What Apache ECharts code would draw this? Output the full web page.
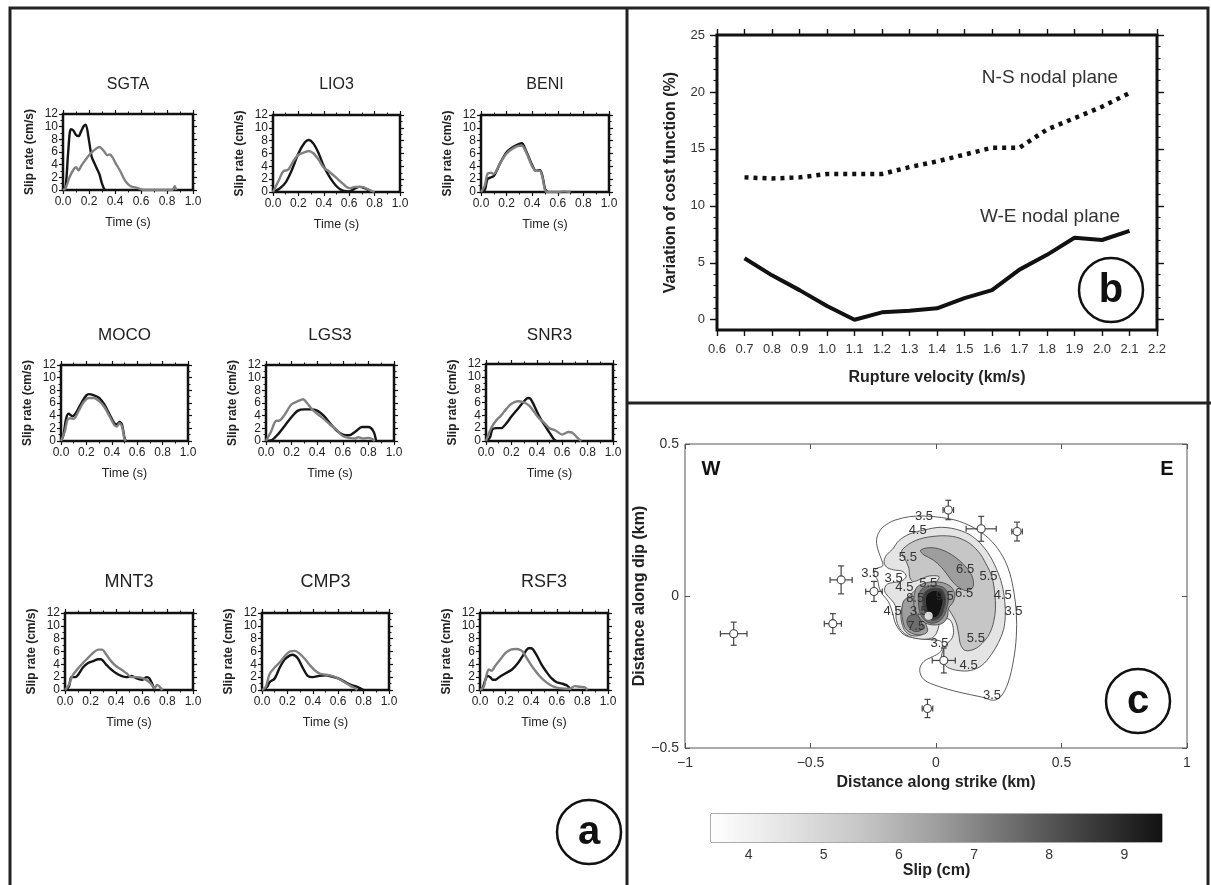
<!DOCTYPE html>
<html><head><meta charset="utf-8">
<script src="https://cdn.jsdelivr.net/npm/echarts@6/dist/echarts.min.js"></script>
<style>html,body{margin:0;padding:0;background:#fff}#c{width:1211px;height:885px}</style>
</head><body><div id="c"></div>
<script>
// ================= DATA =================
// Panel a: slip-rate functions [time (s), slip rate (cm/s)]; obs = black, syn = gray
const stationNames = ['SGTA','LIO3','BENI','MOCO','LGS3','SNR3','MNT3','CMP3','RSF3'];
const SGTA_obs = [[0,0],[0.02,0.5],[0.04,6.0],[0.06,9.6],[0.08,9.4],[0.1,8.7],[0.12,8.5],[0.14,9.3],[0.16,10.1],[0.175,10.3],[0.2,7.8],[0.22,5.3],[0.24,4.3],[0.26,3.4],[0.28,2.5],[0.3,1.0],[0.32,0]];
const SGTA_syn = [[0,0],[0.02,0.3],[0.05,2.0],[0.08,3.2],[0.1,3.6],[0.12,3.1],[0.14,3.8],[0.16,4.4],[0.2,5.5],[0.24,6.3],[0.28,6.8],[0.3,6.5],[0.32,6.0],[0.34,5.5],[0.36,5.6],[0.38,5.2],[0.4,4.4],[0.44,3.0],[0.48,1.4],[0.52,0.6],[0.56,0.4],[0.6,0.1],[0.62,0],[0.84,0],[0.86,0.6],[0.87,0]];
const LIO3_obs = [[0,0],[0.05,0.5],[0.1,1.5],[0.15,3.5],[0.2,6.0],[0.25,7.7],[0.28,8.1],[0.32,7.5],[0.36,6.0],[0.4,4.0],[0.45,2.2],[0.5,0.9],[0.55,0.2],[0.6,0.1],[0.65,0.6],[0.68,0.8],[0.72,0.6],[0.76,0.2],[0.78,0]];
const LIO3_syn = [[0,0],[0.05,2.0],[0.08,3.2],[0.12,3.5],[0.16,4.8],[0.2,5.8],[0.25,6.2],[0.28,6.4],[0.32,6.0],[0.36,5.0],[0.4,3.8],[0.44,3.2],[0.5,2.2],[0.55,1.3],[0.6,0.6],[0.65,0.8],[0.7,0.8],[0.75,0.4],[0.8,0]];
const BENI_obs = [[0,0],[0.03,0.3],[0.05,2.0],[0.08,2.3],[0.1,2.5],[0.12,3.2],[0.15,4.5],[0.2,6.2],[0.25,7.0],[0.3,7.5],[0.32,7.6],[0.35,6.5],[0.4,4.2],[0.43,3.3],[0.46,3.4],[0.48,2.5],[0.5,0.5],[0.52,0]];
const BENI_syn = [[0,0],[0.03,1.0],[0.05,2.8],[0.08,3.0],[0.1,2.8],[0.12,3.3],[0.15,4.5],[0.2,6.0],[0.25,6.8],[0.3,7.2],[0.32,7.2],[0.35,6.3],[0.4,4.0],[0.43,3.3],[0.46,3.3],[0.48,2.3],[0.5,0.3],[0.52,0],[0.6,0],[0.65,0.1],[0.7,0]];
const MOCO_obs = [[0,0],[0.02,1.0],[0.04,3.5],[0.06,4.3],[0.09,3.9],[0.12,4.5],[0.16,6.0],[0.2,7.2],[0.22,7.4],[0.26,7.2],[0.3,6.8],[0.34,5.8],[0.38,4.3],[0.42,2.8],[0.44,2.6],[0.46,3.0],[0.48,2.6],[0.5,0.5],[0.51,0]];
const MOCO_syn = [[0,0],[0.03,1.5],[0.05,3.3],[0.07,3.6],[0.1,3.5],[0.14,4.8],[0.18,6.2],[0.22,6.8],[0.26,6.8],[0.3,6.3],[0.34,5.4],[0.38,4.0],[0.42,2.5],[0.44,2.3],[0.46,2.8],[0.48,2.3],[0.5,0.3],[0.51,0]];
const LGS3_obs = [[0,0],[0.05,0.2],[0.1,1.2],[0.15,2.5],[0.2,3.8],[0.25,4.8],[0.3,5.0],[0.35,5.0],[0.4,4.8],[0.45,4.0],[0.5,2.8],[0.55,1.7],[0.6,1.0],[0.65,0.9],[0.7,1.5],[0.75,2.2],[0.8,2.2],[0.84,1.5],[0.86,0]];
const LGS3_syn = [[0,0],[0.04,1.5],[0.08,3.2],[0.1,3.2],[0.14,4.0],[0.2,5.8],[0.25,6.3],[0.29,6.6],[0.32,6.0],[0.36,5.0],[0.4,4.3],[0.45,3.5],[0.5,2.6],[0.55,1.8],[0.6,0.8],[0.65,0.5],[0.7,0.4],[0.72,0.6],[0.76,0.4],[0.8,0.5],[0.83,0.3],[0.85,0]];
const SNR3_obs = [[0,0],[0.03,0.5],[0.05,1.8],[0.08,2.0],[0.12,2.0],[0.15,2.5],[0.2,3.8],[0.25,5.0],[0.3,6.2],[0.33,6.7],[0.35,6.6],[0.38,5.5],[0.42,3.8],[0.46,2.5],[0.5,1.3],[0.53,0.4],[0.55,0]];
const SNR3_syn = [[0,0],[0.04,2.0],[0.08,3.2],[0.12,4.0],[0.16,5.0],[0.2,5.8],[0.25,6.2],[0.3,6.0],[0.34,5.5],[0.38,4.5],[0.42,3.5],[0.46,2.8],[0.5,2.0],[0.55,1.6],[0.6,1.0],[0.65,1.4],[0.68,1.3],[0.72,0.5],[0.75,0]];
const MNT3_obs = [[0,0],[0.03,0.5],[0.05,2.0],[0.08,2.0],[0.1,2.3],[0.14,3.5],[0.18,4.2],[0.22,4.5],[0.26,4.8],[0.28,4.8],[0.32,4.0],[0.36,3.2],[0.4,2.6],[0.44,2.2],[0.48,2.0],[0.52,2.2],[0.56,1.8],[0.6,1.6],[0.64,2.0],[0.66,1.8],[0.68,1.0],[0.7,0]];
const MNT3_syn = [[0,0],[0.03,0.8],[0.06,2.3],[0.1,3.3],[0.14,4.2],[0.18,5.0],[0.22,5.8],[0.26,6.3],[0.29,6.3],[0.32,5.6],[0.36,4.5],[0.4,3.7],[0.44,3.2],[0.48,2.6],[0.52,2.0],[0.56,2.0],[0.6,1.9],[0.64,1.5],[0.67,1.0],[0.7,0.3],[0.72,0.8],[0.74,0.5],[0.76,0]];
const CMP3_obs = [[0,0],[0.04,0.5],[0.06,1.2],[0.1,1.8],[0.14,3.5],[0.18,4.8],[0.22,5.4],[0.24,5.5],[0.28,5.0],[0.32,3.5],[0.36,2.2],[0.4,2.0],[0.45,2.2],[0.5,2.3],[0.55,2.1],[0.6,1.8],[0.65,1.3],[0.7,0.8],[0.75,0.5],[0.78,0.2],[0.8,0]];
const CMP3_syn = [[0,0],[0.03,0.5],[0.06,2.5],[0.1,3.5],[0.14,4.3],[0.18,5.3],[0.22,6.0],[0.26,6.1],[0.3,5.6],[0.34,4.8],[0.38,3.8],[0.42,3.0],[0.46,2.5],[0.5,2.4],[0.55,2.2],[0.6,1.8],[0.65,1.2],[0.7,0.6],[0.73,0.3],[0.75,0]];
const RSF3_obs = [[0,0],[0.02,0.3],[0.04,1.5],[0.06,2.2],[0.08,2.0],[0.1,1.6],[0.12,1.6],[0.15,2.0],[0.2,2.6],[0.25,3.2],[0.3,4.3],[0.34,5.5],[0.38,6.5],[0.4,6.5],[0.44,5.5],[0.48,4.0],[0.52,2.8],[0.56,1.8],[0.6,1.2],[0.64,1.0],[0.68,0.7],[0.7,0.3],[0.72,0]];
const RSF3_syn = [[0,0],[0.03,0.5],[0.05,2.3],[0.07,3.2],[0.09,3.0],[0.12,3.8],[0.16,4.8],[0.2,5.8],[0.24,6.3],[0.28,6.4],[0.32,6.2],[0.34,5.8],[0.38,4.5],[0.42,3.3],[0.46,2.3],[0.5,1.5],[0.54,0.9],[0.58,0.5],[0.62,0.3],[0.7,0.2],[0.74,0.6],[0.78,0.5],[0.82,0.4],[0.84,0]];

// Panel b: cost function variation (%) vs rupture velocity (km/s)
const velocity = [0.7,0.8,0.9,1.0,1.1,1.2,1.3,1.4,1.5,1.6,1.7,1.8,1.9,2.0,2.1];
const costNS = [12.5,12.4,12.5,12.8,12.8,12.8,13.4,13.9,14.5,15.1,15.1,16.7,17.7,18.7,19.9];
const costWE = [5.4,3.9,2.6,1.2,0.0,0.65,0.8,1.0,1.9,2.6,4.4,5.7,7.2,7.0,7.8];
const costTicks = [0,5,10,15,20,25];
const costMinorTicks = [0,1,2,3,4,5,6,7,8,9,10,11,12,13,14,15,16,17,18,19,20,21,22,23,24,25];

// Panel c: slip contours (km along strike, km along dip)
const contour35 = [[-0.162,0.250],[-0.105,0.261],[-0.048,0.263],[0.023,0.258],[0.095,0.245],[0.166,0.217],[0.223,0.179],[0.266,0.130],[0.294,0.075],[0.311,0.009],[0.320,-0.056],[0.320,-0.133],[0.309,-0.210],[0.287,-0.286],[0.259,-0.330],[0.230,-0.343],[0.180,-0.332],[0.095,-0.317],[0.009,-0.297],[-0.048,-0.275],[-0.065,-0.243],[-0.048,-0.215],[0.002,-0.193],[0.023,-0.177],[0.021,-0.150],[-0.019,-0.144],[-0.076,-0.139],[-0.126,-0.128],[-0.159,-0.095],[-0.173,-0.056],[-0.190,-0.018],[-0.212,0.004],[-0.226,0.026],[-0.233,0.053],[-0.247,0.073],[-0.236,0.091],[-0.212,0.099],[-0.219,0.124],[-0.233,0.157],[-0.236,0.190],[-0.219,0.220],[-0.190,0.239]];
const contour45 = [[-0.173,0.154],[-0.148,0.182],[-0.105,0.204],[-0.048,0.217],[0.023,0.226],[0.102,0.214],[0.159,0.187],[0.206,0.143],[0.240,0.091],[0.263,0.037],[0.274,-0.018],[0.276,-0.067],[0.269,-0.111],[0.249,-0.153],[0.220,-0.193],[0.183,-0.228],[0.138,-0.245],[0.088,-0.245],[0.045,-0.234],[0.023,-0.212],[0.026,-0.182],[0.045,-0.157],[0.066,-0.135],[0.069,-0.106],[0.055,-0.078],[0.023,-0.076],[0.002,-0.122],[-0.019,-0.139],[-0.069,-0.141],[-0.116,-0.129],[-0.145,-0.106],[-0.159,-0.073],[-0.159,-0.043],[-0.169,-0.021],[-0.190,-0.002],[-0.205,0.018],[-0.197,0.037],[-0.173,0.044],[-0.140,0.048],[-0.119,0.064],[-0.133,0.081],[-0.169,0.086],[-0.197,0.095],[-0.207,0.113],[-0.197,0.135]];
const contour55 = [[-0.133,0.154],[-0.083,0.182],[-0.012,0.196],[0.066,0.196],[0.123,0.179],[0.169,0.146],[0.199,0.106],[0.223,0.062],[0.234,0.009],[0.237,-0.040],[0.230,-0.084],[0.213,-0.124],[0.185,-0.155],[0.152,-0.175],[0.116,-0.179],[0.098,-0.160],[0.091,-0.128],[0.081,-0.089],[0.063,-0.060],[0.041,-0.037],[0.038,-0.067],[0.009,-0.080],[-0.026,-0.080],[-0.048,-0.100],[-0.051,-0.124],[-0.091,-0.131],[-0.122,-0.116],[-0.136,-0.089],[-0.140,-0.062],[-0.133,-0.034],[-0.119,-0.013],[-0.098,0.007],[-0.069,0.026],[-0.034,0.037],[0.002,0.048],[0.012,0.064],[-0.026,0.066],[-0.062,0.055],[-0.093,0.048],[-0.105,0.064],[-0.108,0.091],[-0.122,0.119],[-0.136,0.139]];
const contour65Crescent = [[-0.062,0.150],[-0.026,0.159],[0.023,0.152],[0.073,0.130],[0.112,0.102],[0.138,0.075],[0.149,0.048],[0.145,0.026],[0.120,0.018],[0.095,0.026],[0.069,0.044],[0.045,0.070],[0.021,0.095],[-0.012,0.119],[-0.048,0.135]];
const contour65Lobe = [[-0.126,-0.013],[-0.091,-0.002],[-0.062,-0.018],[-0.048,-0.051],[-0.041,-0.089],[-0.034,-0.117],[-0.062,-0.128],[-0.098,-0.122],[-0.122,-0.106],[-0.133,-0.078],[-0.136,-0.045]];
const contour65Core = [[-0.075,0.030],[-0.030,0.045],[0.020,0.045],[0.060,0.030],[0.075,0.005],[0.068,-0.020],[0.050,-0.040],[0.045,-0.070],[0.025,-0.090],[-0.015,-0.095],[-0.050,-0.085],[-0.075,-0.060],[-0.088,-0.030],[-0.086,0.005]];
const contour75Lobe = [[-0.108,-0.067],[-0.079,-0.062],[-0.059,-0.084],[-0.055,-0.109],[-0.083,-0.117],[-0.108,-0.102],[-0.116,-0.084]];
const contour75Core = [[-0.058,0.022],[-0.015,0.034],[0.030,0.028],[0.050,0.000],[0.044,-0.035],[0.030,-0.068],[0.005,-0.086],[-0.028,-0.088],[-0.055,-0.070],[-0.068,-0.040],[-0.068,-0.005]];
const contour85Core = [[-0.045,0.012],[-0.012,0.026],[0.025,0.020],[0.038,-0.008],[0.032,-0.042],[0.016,-0.070],[-0.012,-0.080],[-0.036,-0.068],[-0.050,-0.040],[-0.052,-0.012]];
const contour95Core = [[-0.036,0.005],[-0.010,0.018],[0.015,0.012],[0.028,-0.010],[0.022,-0.040],[0.008,-0.065],[-0.012,-0.072],[-0.030,-0.060],[-0.040,-0.035],[-0.042,-0.012]];
const contourShapes = [contour35, contour45, contour55, contour65Crescent, contour65Lobe, contour65Core, contour75Lobe, contour75Core, contour85Core, contour95Core];
const contourLevels = [3.5, 4.5, 5.5, 6.5, 6.5, 6.5, 7.5, 7.5, 8.5, 9.5];
const contourLabelX = [-0.048,-0.073,-0.112,0.116,0.209,-0.262,-0.169,-0.126,-0.031,0.035,0.112,-0.083,0.266,0.309,-0.173,-0.069,-0.079,0.159,0.014,0.130,0.223];
const contourLabelY = [0.261,0.217,0.128,0.086,0.064,0.073,0.059,0.029,0.042,-0.002,0.007,-0.009,0.001,-0.051,-0.051,-0.051,-0.100,-0.139,-0.157,-0.229,-0.328];
const contourLabelText = ['3.5','4.5','5.5','6.5','5.5','3.5','3.5','4.5','5.5','9.5','6.5','8.5','4.5','3.5','4.5','3.5','7.5','5.5','3.5','4.5','3.5'];
const stationX = [-0.806,-0.378,-0.247,-0.411,0.049,0.180,0.323,0.031,-0.034];
const stationY = [-0.124,0.053,0.015,-0.091,0.283,0.221,0.212,-0.212,-0.370];
const stationXErr = [0.053,0.044,0.033,0.034,0.021,0.060,0.021,0.046,0.021];
const stationYErr = [0.038,0.046,0.033,0.033,0.032,0.041,0.031,0.041,0.030];
const hypocenter = [[-0.029,-0.065]];
const slipColorRange = [3.5, 9.5];
const slipColorTicks = [4,5,6,7,8,9];

// ================= STYLE / LAYOUT =================
const FF = '"Liberation Sans", Arial, Helvetica, sans-serif';
const obsSeries = [SGTA_obs, LIO3_obs, BENI_obs, MOCO_obs, LGS3_obs, SNR3_obs, MNT3_obs, CMP3_obs, RSF3_obs];
const synSeries = [SGTA_syn, LIO3_syn, BENI_syn, MOCO_syn, LGS3_syn, SNR3_syn, MNT3_syn, CMP3_syn, RSF3_syn];
const smallBox = [[63,114,130,76],[273,115,127,77],[481,115,128,77],[61,365,127,76],[266,365,128,76],[486,364,127,77],[65,613,128,77],[262,613,127,77],[480,613,128,77]];
const titleY = [85,85,85,335,335,335,582,582,582];
const titleSize = [16,16,16,17,17,17,18,18,18];
const levelColor = {3.5:'#ffffff',4.5:'#e4e4e4',5.5:'#c6c6c6',6.5:'#9e9e9e',7.5:'#6e6e6e',8.5:'#3e3e3e',9.5:'#121212'};

const grids = [], xAxes = [], yAxes = [], series = [], graphics = [];
const tickStyle = {color:'#111', width:1.2};
const noLine = {show:false, onZero:false};

stationNames.forEach((name, i) => {
  const b = smallBox[i];
  grids.push({left:b[0], top:b[1], width:b[2], height:b[3], show:true, borderColor:'#111', borderWidth:2.5, backgroundColor:'transparent', containLabel:false, outerBoundsMode:'none'});
  const common = {gridIndex:i, type:'value', axisLine:noLine, splitLine:{show:false}, minorSplitLine:{show:false}};
  const tk = {show:true, length:4, lineStyle:tickStyle};
  const mtk = {show:true, splitNumber:2, length:2.5, lineStyle:{color:'#111',width:1}};
  xAxes.push(Object.assign({}, common, {min:0, max:1, interval:0.2, position:'bottom', axisTick:tk, minorTick:mtk,
    axisLabel:{fontSize:12, color:'#222', margin:6, fontFamily:FF, formatter:v=>v.toFixed(1)},
    name:'Time (s)', nameLocation:'middle', nameGap:26, nameTextStyle:{fontSize:12.5, color:'#222', fontFamily:FF}}));
  xAxes.push(Object.assign({}, common, {min:0, max:1, interval:0.2, position:'top', axisTick:tk, minorTick:mtk, axisLabel:{show:false}}));
  yAxes.push(Object.assign({}, common, {min:0, max:12, interval:2, position:'left', axisTick:tk, minorTick:mtk,
    axisLabel:{fontSize:12, color:'#222', margin:5, fontFamily:FF},
    name:'Slip rate (cm/s)', nameLocation:'middle', nameGap:27, nameTextStyle:{fontSize:12, fontWeight:'bold', color:'#222', fontFamily:FF}}));
  yAxes.push(Object.assign({}, common, {min:0, max:12, interval:2, position:'right', axisTick:tk, minorTick:mtk, axisLabel:{show:false}}));
  series.push({type:'line', xAxisIndex:2*i, yAxisIndex:2*i, data:obsSeries[i], symbol:'none', smooth:0.3, lineStyle:{color:'#151515', width:2.4}, z:3});
  series.push({type:'line', xAxisIndex:2*i, yAxisIndex:2*i, data:synSeries[i], symbol:'none', smooth:0.3, lineStyle:{color:'#808080', width:2.4}, z:4});
  graphics.push({type:'text', x:b[0]+b[2]/2, y:titleY[i], style:{text:name, fill:'#222', font:titleSize[i]+'px '+FF, align:'center', verticalAlign:'middle'}});
});

// Panel b (grid 9; xAxis 18,19; yAxis 18..21)
grids.push({left:717, top:35, width:440, height:295, show:true, borderColor:'#111', borderWidth:3, backgroundColor:'transparent', containLabel:false, outerBoundsMode:'none'});
const bx = {gridIndex:9, type:'value', min:0.6, max:2.2, interval:0.1, axisLine:noLine, splitLine:{show:false}};
xAxes.push(Object.assign({}, bx, {position:'bottom', axisTick:{show:true, length:6, lineStyle:{color:'#111', width:1.4}},
  axisLabel:{fontSize:13, color:'#333', margin:13, fontFamily:FF, formatter:v=>v.toFixed(1)},
  name:'Rupture velocity (km/s)', nameLocation:'middle', nameGap:40, nameTextStyle:{fontSize:16, fontWeight:'bold', color:'#222', fontFamily:FF}}));
xAxes.push(Object.assign({}, bx, {position:'top', axisTick:{show:true, length:6, lineStyle:{color:'#111', width:1.4}}, axisLabel:{show:false}}));
const by = {gridIndex:9, type:'value', min:-0.9, max:25, axisLine:noLine, splitLine:{show:false}};
yAxes.push(Object.assign({}, by, {position:'left', axisTick:{show:true, length:7, customValues:costTicks, lineStyle:{color:'#111', width:1.4}},
  axisLabel:{fontSize:13, color:'#333', margin:12, fontFamily:FF, customValues:costTicks},
  name:'Variation of cost function (%)', nameLocation:'middle', nameGap:38, nameTextStyle:{fontSize:16, fontWeight:'bold', color:'#222', fontFamily:FF}}));
yAxes.push(Object.assign({}, by, {position:'left', axisTick:{show:true, length:3.5, customValues:costMinorTicks, lineStyle:{color:'#111', width:1.1}}, axisLabel:{show:false}}));
yAxes.push(Object.assign({}, by, {position:'right', axisTick:{show:true, length:7, customValues:costTicks, lineStyle:{color:'#111', width:1.4}}, axisLabel:{show:false}}));
yAxes.push(Object.assign({}, by, {position:'right', axisTick:{show:true, length:3.5, customValues:costMinorTicks, lineStyle:{color:'#111', width:1.1}}, axisLabel:{show:false}}));
series.push({type:'line', xAxisIndex:18, yAxisIndex:18, data:velocity.map((v,i)=>[v,costNS[i]]), symbol:'none', lineStyle:{color:'#111', width:4.5, type:[4,5], cap:'butt'}});
series.push({type:'line', xAxisIndex:18, yAxisIndex:18, data:velocity.map((v,i)=>[v,costWE[i]]), symbol:'none', lineStyle:{color:'#111', width:4}});
graphics.push({type:'text', x:1050, y:78, style:{text:'N-S nodal plane', fill:'#333', font:'19px '+FF, align:'center', verticalAlign:'middle'}});
graphics.push({type:'text', x:1050, y:217, style:{text:'W-E nodal plane', fill:'#333', font:'19px '+FF, align:'center', verticalAlign:'middle'}});

// Panel c (grid 10; xAxis 20,21; yAxis 22,23)
grids.push({left:685, top:444, width:502, height:304, show:true, borderColor:'#555', borderWidth:1, backgroundColor:'transparent', containLabel:false, outerBoundsMode:'none'});
const minusFmt = v => (v === 0 ? '0' : String(v).replace('-', '\u2212'));
const cx = {gridIndex:10, type:'value', min:-1, max:1, interval:0.5, axisLine:noLine, splitLine:{show:false}};
xAxes.push(Object.assign({}, cx, {position:'bottom', axisTick:{show:true, inside:true, length:5, lineStyle:{color:'#555', width:1}},
  axisLabel:{fontSize:14, color:'#333', margin:8, fontFamily:FF, formatter:minusFmt},
  name:'Distance along strike (km)', nameLocation:'middle', nameGap:27, nameTextStyle:{fontSize:16, fontWeight:'bold', color:'#222', fontFamily:FF}}));
xAxes.push(Object.assign({}, cx, {position:'top', axisTick:{show:true, inside:true, length:5, lineStyle:{color:'#555', width:1}}, axisLabel:{show:false}}));
const cy = {gridIndex:10, type:'value', min:-0.5, max:0.5, interval:0.5, axisLine:noLine, splitLine:{show:false}};
yAxes.push(Object.assign({}, cy, {position:'left', axisTick:{show:true, inside:true, length:5, lineStyle:{color:'#555', width:1}},
  axisLabel:{fontSize:14, color:'#333', margin:6, fontFamily:FF, formatter:minusFmt},
  name:'Distance along dip (km)', nameLocation:'middle', nameGap:20, nameTextStyle:{fontSize:16, fontWeight:'bold', color:'#222', fontFamily:FF}}));
yAxes.push(Object.assign({}, cy, {position:'right', axisTick:{show:true, inside:true, length:5, lineStyle:{color:'#555', width:1}}, axisLabel:{show:false}}));

series.push({type:'custom', xAxisIndex:20, yAxisIndex:22, clip:true, z:2,
  data: contourShapes.map((s,i)=>[s[0][0], s[0][1], i]),
  renderItem: (params, api) => {
    const i = params.dataIndex;
    const pts = contourShapes[i].map(p => api.coord(p));
    return {type:'polygon', shape:{points:pts, smooth:0.35}, style:{fill:levelColor[contourLevels[i]], stroke:'#4a4a4a', lineWidth:0.9}};
  }});
series.push({type:'custom', xAxisIndex:20, yAxisIndex:22, clip:true, z:5,
  data: contourLabelX.map((x,i)=>[x, contourLabelY[i]]),
  renderItem: (params, api) => {
    const i = params.dataIndex;
    const p = api.coord([contourLabelX[i], contourLabelY[i]]);
    return {type:'text', x:p[0], y:p[1], style:{text:contourLabelText[i], fill:'#333', font:'13px '+FF, align:'center', verticalAlign:'middle'}};
  }});
series.push({type:'custom', xAxisIndex:20, yAxisIndex:22, clip:false, z:6,
  data: stationX.map((x,i)=>[x, stationY[i]]),
  renderItem: (params, api) => {
    const i = params.dataIndex;
    const c = api.coord([stationX[i], stationY[i]]);
    const l = api.coord([stationX[i]-stationXErr[i], stationY[i]]);
    const r = api.coord([stationX[i]+stationXErr[i], stationY[i]]);
    const t = api.coord([stationX[i], stationY[i]+stationYErr[i]]);
    const b = api.coord([stationX[i], stationY[i]-stationYErr[i]]);
    const st = {stroke:'#444', lineWidth:1.2};
    const cap = 3;
    return {type:'group', children:[
      {type:'line', shape:{x1:l[0],y1:l[1],x2:r[0],y2:r[1]}, style:st},
      {type:'line', shape:{x1:t[0],y1:t[1],x2:b[0],y2:b[1]}, style:st},
      {type:'line', shape:{x1:l[0],y1:l[1]-cap,x2:l[0],y2:l[1]+cap}, style:st},
      {type:'line', shape:{x1:r[0],y1:r[1]-cap,x2:r[0],y2:r[1]+cap}, style:st},
      {type:'line', shape:{x1:t[0]-cap,y1:t[1],x2:t[0]+cap,y2:t[1]}, style:st},
      {type:'line', shape:{x1:b[0]-cap,y1:b[1],x2:b[0]+cap,y2:b[1]}, style:st},
      {type:'circle', shape:{cx:c[0], cy:c[1], r:4}, style:{fill:'#fff', stroke:'#444', lineWidth:1.1}}
    ]};
  }});
series.push({type:'scatter', xAxisIndex:20, yAxisIndex:22, data:hypocenter, symbol:'circle', symbolSize:8, itemStyle:{color:'#fff', borderWidth:0}, z:7});
graphics.push({type:'text', x:711, y:469, style:{text:'W', fill:'#111', font:'bold 20px '+FF, align:'center', verticalAlign:'middle'}});
graphics.push({type:'text', x:1167, y:469, style:{text:'E', fill:'#111', font:'bold 20px '+FF, align:'center', verticalAlign:'middle'}});

// Colorbar (grid 11; xAxis 22,23; yAxis 24)
grids.push({left:711, top:814, width:451, height:28, show:true, borderColor:'#555', borderWidth:1, backgroundColor:'transparent', containLabel:false, outerBoundsMode:'none'});
xAxes.push({gridIndex:11, type:'value', min:slipColorRange[0], max:slipColorRange[1], position:'bottom', axisLine:noLine, splitLine:{show:false},
  axisTick:{show:true, inside:true, length:4, customValues:slipColorTicks, lineStyle:{color:'#555'}},
  axisLabel:{fontSize:14, color:'#333', margin:6, fontFamily:FF, customValues:slipColorTicks},
  name:'Slip (cm)', nameLocation:'middle', nameGap:20, nameTextStyle:{fontSize:16, fontWeight:'bold', color:'#222', fontFamily:FF}});
xAxes.push({gridIndex:11, type:'value', min:slipColorRange[0], max:slipColorRange[1], position:'top', axisLine:noLine, splitLine:{show:false},
  axisTick:{show:true, inside:true, length:4, customValues:slipColorTicks, lineStyle:{color:'#555'}}, axisLabel:{show:false}});
yAxes.push({gridIndex:11, type:'value', min:0, max:1, show:false});
series.push({type:'custom', xAxisIndex:22, yAxisIndex:24, z:1, data:[[slipColorRange[0], 0, slipColorRange[1]]],
  renderItem: (params, api) => {
    const p0 = api.coord([slipColorRange[0], 1]);
    const p1 = api.coord([slipColorRange[1], 0]);
    const span = slipColorRange[1] - slipColorRange[0];
    const stops = Object.keys(levelColor).map(k => ({offset:(parseFloat(k)-slipColorRange[0])/span, color:levelColor[k]}));
    return {type:'rect', shape:{x:p0[0], y:p0[1], width:p1[0]-p0[0], height:p1[1]-p0[1]},
      style:{fill:{type:'linear', x:0, y:0, x2:1, y2:0, colorStops:stops}}};
  }});

// Figure frame, dividers and panel letters
graphics.push({type:'rect', shape:{x:10, y:8, width:1198, height:900}, style:{fill:'none', stroke:'#222', lineWidth:3}, z:100});
graphics.push({type:'line', shape:{x1:627, y1:8, x2:627, y2:885}, style:{stroke:'#222', lineWidth:3}, z:100});
graphics.push({type:'line', shape:{x1:627, y1:403, x2:1211, y2:403}, style:{stroke:'#222', lineWidth:3}, z:100});
[[589,832,'a'],[1111,290,'b'],[1138,701,'c']].forEach(d => {
  graphics.push({type:'circle', shape:{cx:d[0], cy:d[1], r:32}, style:{fill:'#fff', stroke:'#111', lineWidth:2.5}, z:50});
  graphics.push({type:'text', x:d[0], y:d[1]+1, style:{text:d[2], fill:'#111', font:'bold 40px '+FF, align:'center', verticalAlign:'middle'}, z:51});
});

const chart = echarts.init(document.getElementById('c'), null, {renderer:'canvas'});
chart.setOption({animation:false, backgroundColor:'#fff', grid:grids, xAxis:xAxes, yAxis:yAxes, series:series, graphic:{elements:graphics}});
</script></body></html>
